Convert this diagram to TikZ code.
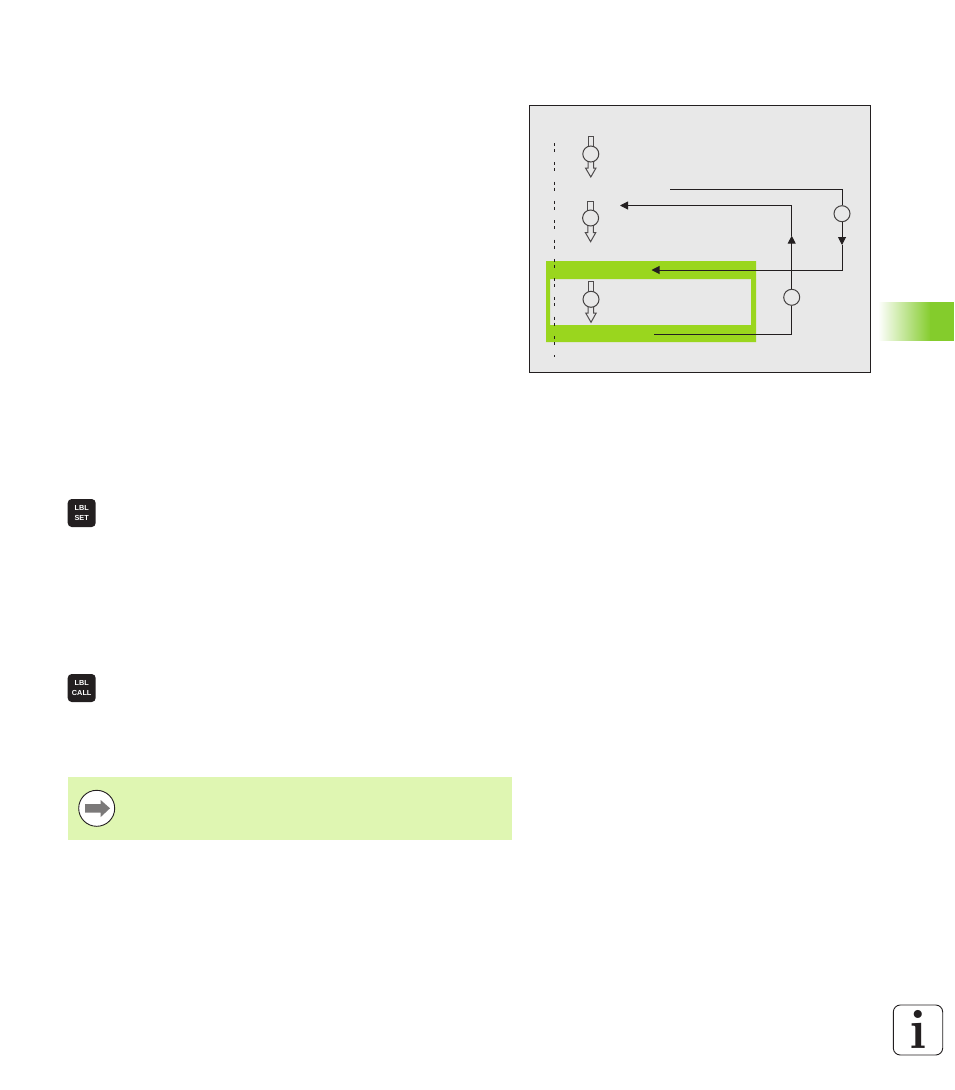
\documentclass[tikz,border=0pt]{standalone}
\usepackage{fontspec}
\setsansfont{Liberation Sans}
\usepackage{tikz}
\usetikzlibrary{arrows.meta}
\definecolor{inkdark}{HTML}{231F20}
\definecolor{panelgray}{HTML}{E8E8E8}
\definecolor{framegreen}{HTML}{9AD61E}
\definecolor{notegreen}{HTML}{DFF6B2}
\definecolor{tabgreen}{HTML}{84CC2C}
\tikzset{
  flowline/.style={draw=inkdark, line width=1pt},
  flowtip/.style={-{Triangle[length=8pt,width=8pt]}},
  hollow/.style={draw=inkdark!80, line width=1pt, fill=panelgray},
  station/.style={circle, draw=inkdark!85, line width=1pt, fill=panelgray, minimum size=16pt, inner sep=0pt},
  lblkey/.style={rounded corners=4pt, fill=inkdark, text=white, minimum width=28pt, minimum height=28pt, inner sep=0pt,
    font=\fontsize{7.3}{9.3}\selectfont\sffamily\bfseries, align=center},
}

\begin{document}
\begin{tikzpicture}[x=1pt, y=-1pt]
\useasboundingbox (0, 0) rectangle (954, 1090);

% Draw Panel
\draw[fill=panelgray, draw=inkdark, line width=1pt] (529.5, 105.5) rectangle (870.5, 372);

% Draw Green Frame
\fill[framegreen, even odd rule] (546, 261) rectangle (756, 342) (550, 279) rectangle (751, 325);
\draw[inkdark, line width=0.9pt, dash pattern=on 3pt off 3pt on 3pt off 10.3pt] (554.5, 143) -- (554.5, 357);

% Draw Flow Arrows
\draw[hollow] (588, 136.5) rectangle (593.5, 148);
\draw[hollow] (588, 160) -- (588, 168) -- (585.5, 168) -- (590.8, 177) -- (596, 168) -- (593.5, 168) -- (593.5, 160);
\node[station] (top) at (590.8, 154) {};

\draw[hollow] (587.8, 201) rectangle (593.3, 212);
\draw[hollow] (587.8, 224) -- (587.8, 232.5) -- (585.3, 232.5) -- (590.6, 241.7) -- (595.8, 232.5) -- (593.3, 232.5) -- (593.3, 224);
\node[station] (middle) at (590.6, 218) {};

\draw[hollow] (588.2, 281.7) rectangle (593.7, 293);
\draw[hollow] (588.2, 305) -- (588.2, 313) -- (585.7, 313) -- (591, 322.3) -- (596.2, 313) -- (593.7, 313) -- (593.7, 305);
\node[station] (bottom) at (591, 299.3) {};

% Draw Jump Back
\node[station] (jumpnode) at (842, 213.7) {};
\coordinate (jumpstart) at (670, 189);
\coordinate (jumpmid) at (842, 245);
\coordinate (jumpend) at (651.5, 270);
\draw[flowline] (jumpstart) -| (jumpnode);
\draw[flowline, flowtip] (jumpnode) -- (jumpmid);
\draw[flowline, flowtip] (jumpmid) |- (jumpend);

% Draw Repeat
\node[station] (repeatnode) at (791.7, 297.3) {};
\coordinate (repeatstart) at (654, 334);
\coordinate (repeatmid) at (791.7, 235.7);
\coordinate (repeatend) at (620, 205.5);
\draw[flowline] (repeatstart) -| (repeatnode);
\draw[flowline, flowtip] (repeatnode) -- (repeatmid);
\draw[flowline, flowtip] (repeatmid) |- (repeatend);

% Draw Keys
\node[lblkey] (setkey) at (81.7, 513) {LBL\\SET};
\node[lblkey] (callkey) at (81.7, 688) {LBL\\CALL};

% Draw Note
\fill[notegreen] (68, 777) rectangle (512, 840);
\draw[fill=white, draw=inkdark, line width=0.9pt] (96.7, 808.3) circle (18);
\fill[inkdark!60] (85, 804) -- (100.7, 804) -- (100.7, 800) -- (110, 808.3) -- (100.7, 817) -- (100.7, 812.7) -- (85, 812.7) -- cycle;

% Draw Tab
\begin{scope}
\clip (878, 302) rectangle (954, 340);
\shade[left color=white, right color=tabgreen] (878, 290) rectangle (931, 350);
\fill[tabgreen] (930, 290) rectangle (954, 350);
\end{scope}

% Draw Info Icon
\draw[fill=white, draw=inkdark, line width=0.9pt, rounded corners=7pt] (893.3, 1005) rectangle (942.7, 1055);
\node[inkdark, inner sep=0pt, font=\fontsize{56}{56}\selectfont\bfseries] (infoletter) at (918.5, 1029.5) {i};
\end{tikzpicture}
\end{document}
